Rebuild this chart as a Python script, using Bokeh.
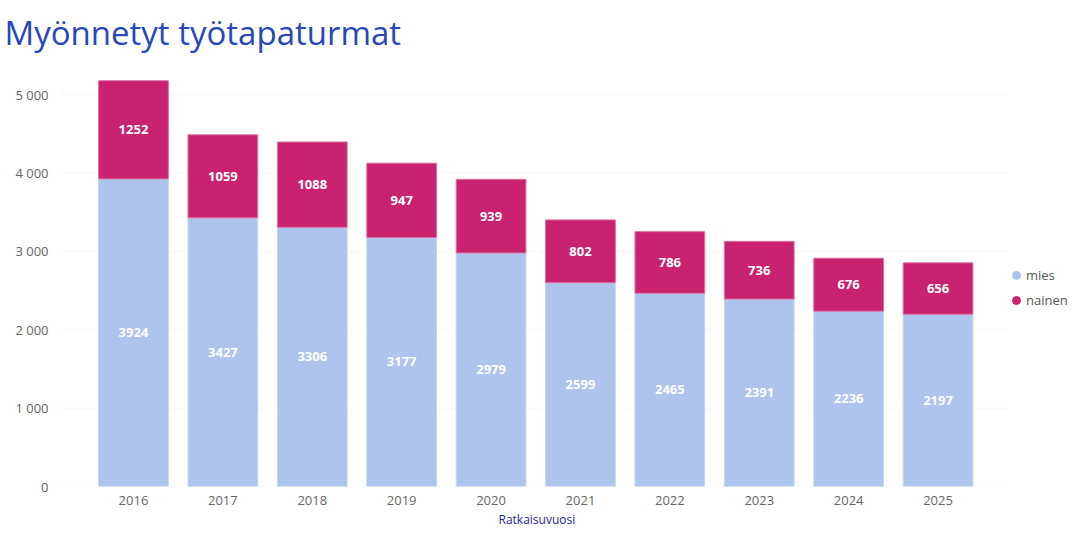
from bokeh.plotting import figure
from bokeh.models import ColumnDataSource, FixedTicker, Legend, LegendItem, Range1d, Title
from bokeh.core.properties import value
from bokeh.embed import file_html
from bokeh.resources import INLINE

years = ["2016", "2017", "2018", "2019", "2020", "2021", "2022", "2023", "2024", "2025"]
mies = [3924, 3427, 3306, 3177, 2979, 2599, 2465, 2391, 2236, 2197]
nainen = [1252, 1059, 1088, 947, 939, 802, 786, 736, 676, 656]
y_ticks = [0, 1000, 2000, 3000, 4000, 5000]

c_mies = "#adc5ed"
c_nainen = "#c9226f"
font = "Open Sans"

idx = list(range(len(years)))
src = ColumnDataSource(data=dict(
    x=idx,
    mies=mies,
    nainen=nainen,
    total=[m + n for m, n in zip(mies, nainen)],
    mies_mid=[m / 2 for m in mies],
    nainen_mid=[m + n / 2 for m, n in zip(mies, nainen)],
    mies_txt=[str(m) for m in mies],
    nainen_txt=[str(n) for n in nainen],
))

x_start = -0.794
p = figure(x_range=Range1d(x_start, 10.56), y_range=Range1d(0, 5434), width=1077, height=530,
           output_backend="svg", toolbar_location=None,
           min_border_left=62, min_border_right=0, min_border_top=60, min_border_bottom=44)
p.outline_line_color = None

p.title.text = "Myönnetyt työtapaturmat"
p.title.text_font = font
p.title.text_font_size = "33px"
p.title.text_font_style = "normal"
p.title.text_color = "#2747bb"
p.title.offset = -58
p.title.standoff = 12

# dotted horizontal grid, ending where the bar area ends
p.xgrid.grid_line_color = None
p.ygrid.grid_line_color = None
p.segment(x0=[x_start] * len(y_ticks), x1=[len(years) - 0.19] * len(y_ticks),
          y0=y_ticks, y1=y_ticks, line_color="#dddddd", line_dash="1 3", line_width=1)

p.vbar(x="x", top="mies", width=0.78, source=src,
       fill_color=c_mies, line_color="#c4d5f2")
p.vbar(x="x", bottom="mies", top="total", width=0.78, source=src,
       fill_color=c_nainen, line_color="#dc6fa0")

p.text(x="x", y="mies_mid", text="mies_txt", source=src,
       text_color="white", text_font=value(font), text_font_size="13px",
       text_font_style="bold", text_align="center", text_baseline="middle")
p.text(x="x", y="nainen_mid", text="nainen_txt", source=src,
       text_color="white", text_font=value(font), text_font_size="13px",
       text_font_style="bold", text_align="center", text_baseline="middle")

# legend with round markers (dummy points that are never drawn in the plot)
nan = float("nan")
r_m = p.scatter(x=[0], y=[nan], marker="circle", size=9, fill_color=c_mies, line_color=c_mies)
r_n = p.scatter(x=[0], y=[nan], marker="circle", size=9, fill_color=c_nainen, line_color=c_nainen)
legend = Legend(items=[LegendItem(label="mies", renderers=[r_m]),
                       LegendItem(label="nainen", renderers=[r_n])],
                location=(944, 176), border_line_color=None, background_fill_alpha=0,
                padding=0, margin=0, spacing=5, glyph_width=20, glyph_height=20,
                label_standoff=-3, label_text_font=font, label_text_font_size="13px",
                label_text_color="#555555")
p.add_layout(legend, "center")

p.yaxis.ticker = FixedTicker(ticks=y_ticks)
p.yaxis.major_label_overrides = {t: f"{t:,}".replace(",", " ") for t in y_ticks}
p.yaxis.axis_line_color = None
p.yaxis.major_tick_line_color = None
p.yaxis.minor_tick_line_color = None
p.yaxis.major_label_text_font = font
p.yaxis.major_label_text_font_size = "13px"
p.yaxis.major_label_text_color = "#666666"
p.yaxis.major_label_standoff = 8

p.xaxis.ticker = FixedTicker(ticks=idx)
p.xaxis.major_label_overrides = {i: y for i, y in zip(idx, years)}
p.xaxis.axis_line_color = None
p.xaxis.major_tick_line_color = None
p.xaxis.minor_tick_line_color = None
p.xaxis.major_label_text_font = font
p.xaxis.major_label_text_font_size = "13px"
p.xaxis.major_label_text_color = "#666666"
p.xaxis.major_label_standoff = 3

# axis title centred under the bar area (not under the legend)
xlab = Title(text="Ratkaisuvuosi", align="left", offset=436, standoff=2,
             text_font=font, text_font_size="12px", text_font_style="normal",
             text_color="#1f1f99")
p.add_layout(xlab, "below")

open("out.html", "w").write(file_html(p, INLINE))
